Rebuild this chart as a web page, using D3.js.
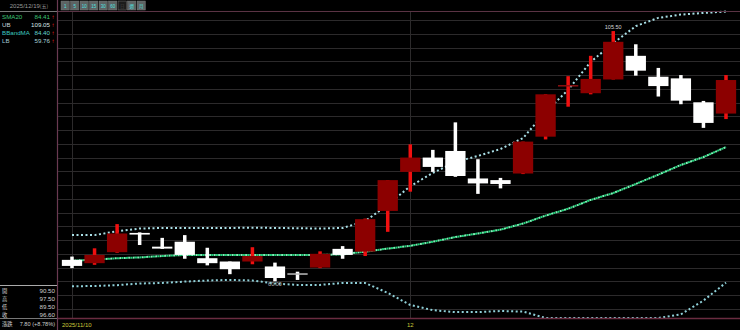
<!DOCTYPE html>
<html><head><meta charset="utf-8">
<script src="https://cdn.jsdelivr.net/npm/d3@7"></script>
<style>
html,body{margin:0;padding:0;background:#000;}
svg{display:block;font-family:"Liberation Sans",Arial,sans-serif;}
.cjk{font-family:"Noto Sans CJK TC","Noto Sans CJK SC",sans-serif;}
</style></head>
<body><svg id="c" width="740" height="330"></svg>
<script>
const dates = ["2025/11/10","2025/11/11","2025/11/12","2025/11/13","2025/11/14","2025/11/17","2025/11/18","2025/11/19","2025/11/20","2025/11/21","2025/11/24","2025/11/25","2025/11/26","2025/11/27","2025/11/28","2025/12/01","2025/12/02","2025/12/03","2025/12/04","2025/12/05","2025/12/08","2025/12/09","2025/12/10","2025/12/11","2025/12/12","2025/12/15","2025/12/16","2025/12/17","2025/12/18","2025/12/19"];
const open  = [63.9,63.3,65.3,68.8,66.3,67.2,64.2,63.6,63.6,62.7,61.35,62.5,65.9,65.4,72.8,79.9,82.5,83.7,78.7,78.4,79.6,86.3,95.5,94.2,96.7,101.0,97.2,96.9,92.55,90.5];
const high  = [64.5,66.0,70.4,68.9,67.9,68.4,66.1,63.6,66.2,63.4,61.75,65.45,66.4,71.4,78.4,84.9,83.9,88.9,82.2,78.8,85.4,94.0,97.3,101.0,105.5,103.1,98.8,97.5,92.8,97.5];
const low   = [62.4,63.0,65.2,66.6,65.9,64.1,62.9,61.3,63.1,60.0,60.25,62.4,64.1,64.6,69.0,76.3,79.9,79.0,75.9,76.9,79.5,85.8,91.75,94.0,96.7,97.4,93.6,92.2,87.9,89.5];
const close = [62.8,64.8,68.7,68.5,65.95,64.8,63.3,62.2,64.6,60.6,61.3,65.0,64.8,71.3,78.4,82.5,80.8,79.15,77.8,77.7,85.4,94.0,95.6,96.8,103.55,98.3,95.5,92.85,88.8,96.6];
const ub      = [68.4,68.4,69.1,69.6,69.7,69.7,69.7,69.7,69.75,69.7,69.65,69.6,69.7,70.95,73.9,77.3,79.7,81.7,82.8,84.05,86.05,90.8,94.8,99.9,103.3,106.4,107.9,108.5,108.8,109.05];
const sma20   = [63.75,63.95,64.2,64.35,64.6,64.8,64.8,64.8,64.8,64.8,64.8,64.8,64.9,65.4,65.95,66.45,67.2,68.05,68.7,69.4,70.5,71.95,73.2,74.8,76.05,77.7,79.4,81.15,82.6,84.41];
const bbandMA = [63.75,63.95,64.2,64.35,64.6,64.8,64.8,64.8,64.8,64.8,64.8,64.8,64.9,65.4,65.95,66.45,67.2,68.05,68.7,69.4,70.5,71.95,73.2,74.8,76.05,77.7,79.4,81.15,82.6,84.40];
const lb      = [59.1,59.15,59.3,59.6,59.7,59.95,60.15,60.25,60.15,59.6,59.35,59.35,59.7,59.7,57.9,55.7,54.75,54.4,54.4,54.6,54.5,53.1,51.6,49.7,48.8,49.0,50.9,54.0,56.5,59.76];
const tickIdx = [0,15];
const tickLabels = ["2025/11/10","12"];
const gridPrices = d3.range(55,108,2.5);
const buttons = ["1","5","10","15","30","60","日","週","月"];
const weekday = "五";

const svg = d3.select("#c");
const L = 57, R = 740, T = 11, B = 318;
svg.append("rect").attr("width",740).attr("height",330).attr("fill","#000");

const n = dates.length;
const x = d3.scaleLinear().domain([0, n-1]).range([72, 726]);
const step = x(1)-x(0);
const bw = step*0.9;
const y = d3.scaleLinear().domain([53.33,109.15]).range([B,T]).clamp(true);

// gridlines
svg.append("g").selectAll("line").data(gridPrices).join("line")
  .attr("x1",L).attr("x2",R).attr("y1",d=>Math.round(y(d))+0.5).attr("y2",d=>Math.round(y(d))+0.5)
  .attr("stroke","#2c2a2b").attr("stroke-width",1);
svg.append("g").selectAll("line").data(tickIdx).join("line")
  .attr("x1",d=>Math.round(x(d))+0.5).attr("x2",d=>Math.round(x(d))+0.5).attr("y1",T).attr("y2",B)
  .attr("stroke","#2c2a2b");

svg.append("clipPath").attr("id","cp").append("rect").attr("x",L).attr("y",T-1).attr("width",R-L).attr("height",B-T+1);
const plot = svg.append("g").attr("clip-path","url(#cp)");

// bands
function band(arr, color, offset){
  plot.append("path").datum(arr)
    .attr("d", d3.line().x((d,i)=>x(i)).y(d=>y(d)))
    .attr("fill","none").attr("stroke",color).attr("stroke-width",2)
    .attr("stroke-dasharray","2,2.5").attr("stroke-dashoffset",offset||0);
}
band(ub,"#a9dfe6");
band(lb,"#8fd0d8");
band(bbandMA,"#7ff0b8",2.2);
band(sma20,"#20d47a");

// candles
const idx = d3.range(n);
const up = i => close[i] >= open[i];
const cg = plot.append("g");
idx.forEach(i=>{
  const cx = x(i);
  const isUp = up(i);
  const top = y(Math.max(open[i],close[i])), bot = y(Math.min(open[i],close[i]));
  const doji = Math.abs(open[i]-close[i]) < 0.15;
  cg.append("rect").attr("x",cx-1.75).attr("width",3.5)
    .attr("y",y(high[i])).attr("height",y(low[i])-y(high[i]))
    .attr("fill", isUp ? "#f01010" : "#ffffff");
  if (doji) {
    cg.append("rect").attr("x",cx-bw/2).attr("width",bw).attr("y",(top+bot)/2-0.75).attr("height",1.5)
      .attr("fill", isUp ? "#8c1010" : "#bbbbbb");
  } else {
    cg.append("rect").attr("x",cx-bw/2).attr("width",bw).attr("y",top).attr("height",Math.max(1,bot-top))
      .attr("fill", isUp ? "#8c0000" : "#ffffff");
  }
});

// high / low labels
const hiI = d3.maxIndex(high), loI = d3.minIndex(low);
svg.append("text").attr("x",x(hiI)).attr("y",y(high[hiI])-2.5).attr("text-anchor","middle")
  .attr("font-size",5.5).attr("fill","#d8d8d8").text(high[hiI].toFixed(2));
svg.append("text").attr("x",x(loI)).attr("y",y(low[loI])+5).attr("text-anchor","middle")
  .attr("font-size",5.5).attr("fill","#bbbbbb").text(low[loI].toFixed(2));

// borders
svg.append("line").attr("x1",L).attr("x2",R).attr("y1",T+0.5).attr("y2",T+0.5).attr("stroke","#5a3344").attr("stroke-width",1.2);
svg.append("line").attr("x1",L).attr("x2",R).attr("y1",B+0.5).attr("y2",B+0.5).attr("stroke","#6a2c40").attr("stroke-width",1.5);
svg.append("line").attr("x1",L+0.5).attr("x2",L+0.5).attr("y1",0).attr("y2",330).attr("stroke","#6a3a52").attr("stroke-width",1.2);
svg.append("line").attr("x1",0).attr("x2",L).attr("y1",11.5).attr("y2",11.5).attr("stroke","#777");
svg.append("line").attr("x1",0).attr("x2",L).attr("y1",285.5).attr("y2",285.5).attr("stroke","#aaa");
svg.append("line").attr("x1",0).attr("x2",L).attr("y1",B+0.5).attr("y2",B+0.5).attr("stroke","#777");

// x tick labels
svg.append("g").selectAll("text").data(tickIdx).join("text")
  .attr("x",(d,i)=> i===0 ? x(d)-10 : x(d)).attr("y",327)
  .attr("text-anchor",(d,i)=> i===0 ? "start":"middle")
  .attr("font-size",6).attr("fill","#c9c83a").text((d,i)=>tickLabels[i]);

// toolbar
const tb = svg.append("g");
buttons.forEach((b,i)=>{
  const bx = 61 + i*9.5;
  tb.append("rect").attr("x",bx).attr("y",1).attr("width",8.3).attr("height",9)
    .attr("fill", i===6 ? "#1c1c1c" : "#5d6363").attr("stroke","#7a7a7a").attr("stroke-width",0.5);
  tb.append("text").attr("x",bx+4.15).attr("y",7.6).attr("text-anchor","middle").attr("font-size",4.5)
    .attr("class", i>=6 ? "cjk" : null)
    .attr("fill", i===6 ? "#444" : "#4fe0e0").text(b);
});

// header date
const last = n-1;
svg.append("text").attr("x",29).attr("y",8).attr("text-anchor","middle").attr("font-size",6)
  .attr("fill","#9a9a9a").text(dates[last]).append("tspan").attr("class","cjk").attr("font-size",5).text("(" + weekday + ")");

// legend
const legend = [
  {name:"SMA20", v:sma20[last], c:"#3cc476", vc:"#3cc476"},
  {name:"UB", v:ub[last], c:"#c8d8dc", vc:"#d8e4e6"},
  {name:"BBandMA", v:bbandMA[last], c:"#3cc9c0", vc:"#62d4d0"},
  {name:"LB", v:lb[last], c:"#9fc8d4", vc:"#a8d4dc"}
];
const lg = svg.append("g").attr("font-size",6.2);
legend.forEach((d,i)=>{
  const yy = 19 + i*8;
  lg.append("text").attr("x",2).attr("y",yy).attr("fill",d.c).text(d.name);
  lg.append("text").attr("x",50).attr("y",yy).attr("text-anchor","end").attr("fill",d.vc).text(d.v.toFixed(2));
  lg.append("text").attr("x",51.5).attr("y",yy).attr("fill","#ff2020").attr("font-size",6).text("↑");
});

// OHLC panel
const chg = close[last]-close[last-1];
const rows = [["開",open[last].toFixed(2)],["高",high[last].toFixed(2)],["低",low[last].toFixed(2)],["收",close[last].toFixed(2)]];
const og = svg.append("g").attr("font-size",6.2);
rows.forEach((r,i)=>{
  const yy = 293 + i*8;
  og.append("text").attr("class","cjk").attr("x",2).attr("y",yy-0.3).attr("font-size",5.3).attr("fill","#cfcfcf").text(r[0]);
  og.append("text").attr("x",55).attr("y",yy).attr("text-anchor","end").attr("fill","#cfcfcf").text(r[1]);
});
og.append("text").attr("class","cjk").attr("x",2).attr("y",326).attr("font-size",5.3).attr("fill","#cfcfcf").text("漲跌");
og.append("text").attr("x",55).attr("y",326).attr("text-anchor","end").attr("font-size",5.6).attr("fill","#cfcfcf")
  .text(chg.toFixed(2) + " (" + (chg>=0?"+":"") + (chg/close[last-1]*100).toFixed(2) + "%)");
</script></body></html>
